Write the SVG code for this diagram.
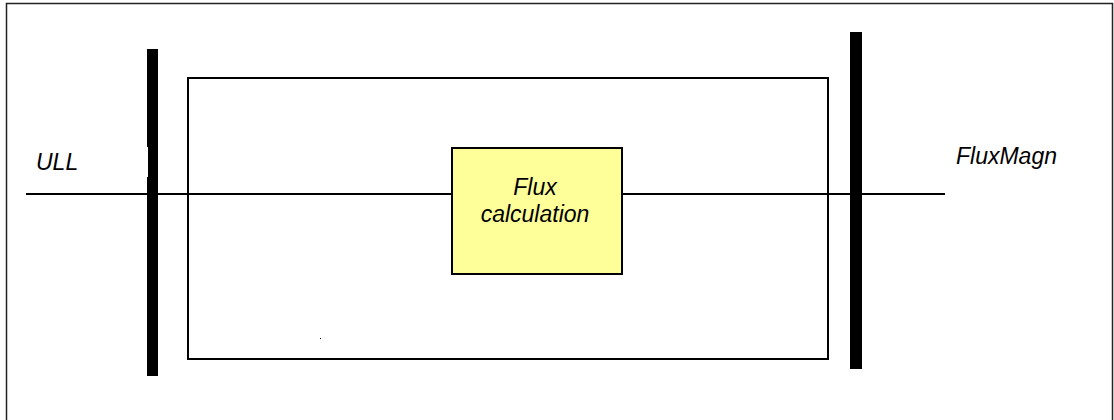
<svg xmlns="http://www.w3.org/2000/svg" width="1114" height="420" viewBox="0 0 1114 420">
<style>
.lbl{font-family:"Liberation Sans",Arial,sans-serif;font-style:italic;font-size:23px;fill:#000}
.bar{fill:#000}
.ln{stroke:#000;stroke-width:2;fill:none}
</style>
<rect x="0" y="0" width="1114" height="420" fill="#fff"/>
<path d="M6.5,425 V3.5 H1112.5 V425" fill="none" stroke="#222" stroke-width="1.5"/>
<g id="connectors">
<line class="ln" x1="26" y1="194" x2="452" y2="194"/>
<line class="ln" x1="622" y1="194" x2="945" y2="194"/>
</g>
<g id="frame">
<rect class="ln" x="188" y="78" width="640" height="281"/>
</g>
<g id="bar-left">
<rect class="bar" x="147" y="49" width="11" height="98"/>
<rect class="bar" x="148" y="147" width="10" height="30"/>
<rect class="bar" x="147" y="177" width="11" height="199"/>
</g>
<g id="bar-right">
<rect class="bar" x="850" y="32" width="12" height="337"/>
</g>
<g id="flux-calc">
<rect x="452" y="148" width="170" height="126" fill="#ffff99" stroke="#000" stroke-width="2"/>
<text class="lbl" x="535" y="195" text-anchor="middle">Flux</text>
<text class="lbl" x="535" y="222" text-anchor="middle">calculation</text>
</g>
<g id="label-ull">
<text class="lbl" x="36" y="170">ULL</text>
</g>
<g id="label-fluxmagn">
<text class="lbl" x="956" y="164">FluxMagn</text>
</g>
<rect x="320" y="338" width="1" height="1" fill="#000"/>
</svg>
